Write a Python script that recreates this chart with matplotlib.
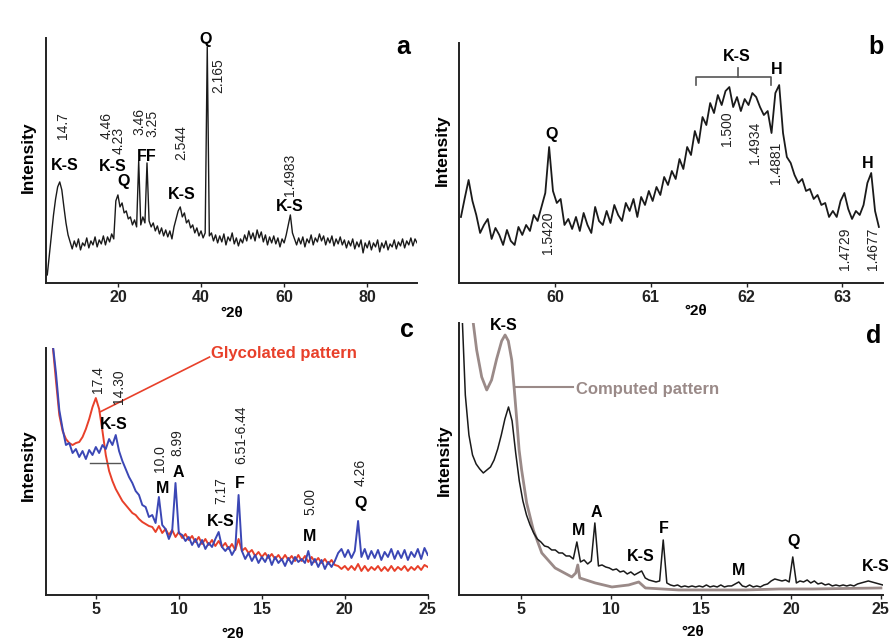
# XRD patterns of the K-S clay sample: bulk (a), zoom on 060 region (b),
# oriented air dried / glycolated (c) and oriented vs computed (d).
import numpy as np
import matplotlib
matplotlib.use("Agg")
import matplotlib.pyplot as plt

plt.rcParams['font.family'] = ['Liberation Sans', 'DejaVu Sans']

# ---- panel a : bulk pattern, 2theta from 3.0 in steps of 0.5
a_start, a_step = 3.0, 0.5
a_int = [8, 28, 48, 68, 84, 96, 101, 93, 76, 60,
         48, 41, 34, 42, 36, 44, 33, 40, 37, 45,
         35, 42, 38, 46, 36, 43, 39, 47, 38, 46,
         41, 49, 44, 82, 88, 76, 80, 70, 72, 64,
         66, 58, 63, 56, 122, 58, 66, 60, 120, 62,
         56, 60, 52, 57, 49, 55, 47, 53, 46, 52,
         44, 56, 64, 72, 76, 66, 70, 60, 63, 55,
         58, 50, 55, 47, 52, 45, 50, 236, 47, 50,
         42, 48, 40, 47, 41, 49, 38, 46, 42, 50,
         39, 45, 37, 44, 40, 48, 42, 52, 44, 50,
         42, 53, 45, 51, 41, 48, 38, 46, 40, 47,
         39, 45, 36, 44, 40, 48, 58, 68, 50, 44,
         38, 45, 39, 46, 36, 44, 40, 48, 38, 45,
         41, 49, 42, 47, 38, 45, 40, 47, 37, 44,
         39, 46, 38, 43, 35, 42, 37, 44, 34, 41,
         36, 43, 30, 40, 35, 42, 33, 40, 36, 43,
         31, 40, 35, 42, 33, 39, 36, 43, 34, 41,
         37, 44, 35, 42, 38, 45, 37, 44, 40]

# ---- panel b : 59-63.4 deg, steps of 0.04
b_start, b_step = 59.02, 0.04
b_int = [66, 85, 103, 82, 68, 50, 58, 64, 44, 55,
         48, 38, 53, 42, 38, 56, 48, 58, 52, 68,
         62, 76, 90, 136, 92, 80, 84, 58, 64, 54,
         66, 52, 70, 58, 50, 76, 62, 58, 72, 60,
         78, 68, 62, 80, 72, 84, 66, 86, 78, 92,
         82, 96, 88, 106, 98, 112, 104, 124, 114, 136,
         128, 152, 140, 166, 158, 180, 170, 188, 178, 192,
         196, 176, 186, 172, 184, 178, 190, 186, 176, 168,
         172, 150, 190, 198, 150, 126, 120, 108, 100, 104,
         92, 94, 84, 88, 78, 80, 66, 72, 66, 82,
         90, 74, 64, 72, 68, 78, 100, 110, 72, 56]

# ---- panel c : oriented (blue) and glycolated (red), steps of 0.2
c_start, c_step = 2.4, 0.2
c_glyco = [250, 214, 180, 164, 156, 152, 150, 152, 153, 158,
           166, 176, 188, 197, 186, 164, 140, 124, 114, 106,
           100, 94, 90, 86, 82, 80, 76, 73, 71, 69,
           68, 63, 69, 62, 66, 60, 65, 58, 63, 57,
           61, 55, 59, 53, 58, 51, 56, 50, 55, 49,
           54, 48, 52, 46, 51, 45, 56, 44, 47, 42,
           45, 39, 43, 38, 42, 37, 41, 36, 40, 35,
           40, 35, 39, 34, 40, 34, 39, 33, 38, 33,
           37, 32, 36, 31, 35, 30, 29, 26, 29, 25,
           29, 25, 31, 24, 29, 24, 28, 25, 29, 24,
           28, 24, 29, 24, 28, 25, 29, 24, 28, 25,
           29, 25, 30, 28]
c_air = [252, 222, 185, 166, 150, 152, 142, 146, 138, 144,
         136, 145, 140, 148, 142, 150, 146, 156, 150, 160,
         144, 134, 126, 118, 112, 104, 100, 90, 88, 78,
         80, 72, 98, 70, 66, 56, 64, 112, 62, 60,
         54, 58, 50, 56, 48, 55, 46, 52, 48, 56,
         63, 48, 44, 48, 40, 46, 100, 44, 36, 42,
         34, 40, 32, 38, 33, 40, 30, 38, 32, 36,
         29, 37, 31, 38, 33, 36, 32, 44, 30, 36,
         28, 35, 26, 33, 28, 34, 42, 46, 38, 45,
         37, 44, 74, 38, 46, 36, 44, 37, 45, 35,
         43, 38, 46, 36, 44, 37, 45, 35, 43, 38,
         46, 36, 47, 40]

# ---- panel d : measured (black, steps of 0.2) and computed (grey)
d_start, d_step = 1.7, 0.2
d_meas = [290, 200, 160, 140, 131, 126, 122, 125, 128, 135,
          146, 160, 176, 188, 174, 142, 114, 94, 80, 70,
          62, 56, 53, 49, 48, 45, 45, 42, 42, 39,
          39, 36, 53, 33, 35, 31, 34, 72, 29, 30,
          28, 27, 25, 26, 23, 24, 21, 23, 20, 22,
          24, 17, 15, 14, 13, 14, 55, 12, 10, 9,
          10, 8, 9, 8, 9, 8, 9, 8, 10, 8,
          9, 8, 10, 8, 9, 9, 11, 13, 9, 8,
          10, 8, 9, 8, 10, 11, 14, 16, 15, 14,
          15, 13, 38, 12, 14, 13, 15, 12, 14, 11,
          12, 10, 11, 9, 10, 9, 10, 9, 10, 9,
          11, 12, 13, 14, 13, 12, 11, 10]
d_calc_x = [2.25, 2.53, 2.81, 3.09, 3.36, 3.64, 3.92, 4.11, 4.29, 4.48,
            4.61, 4.76, 4.89, 5.03, 5.31, 5.68, 6.15, 6.89, 7.82, 8.04,
            8.15, 8.26, 9.12, 10.05, 10.98, 11.54, 11.91, 13.76, 17.48,
            19.34, 21.2, 25.0]
d_calc = [285, 245, 218, 205, 215, 236, 254, 260, 254, 235,
          208, 175, 145, 125, 92, 65, 42, 27, 18, 22,
          30, 17, 12, 8, 10, 13, 7, 5, 5, 6, 6, 7]

RED = '#e8402a'
BLUE = '#3b47b5'
GREY = '#9a8a88'
INK = '#1a1a1a'


def xs(start, step, vals):
    return start + step * np.arange(len(vals))


def style_axes(ax, xlim, ylim, xticks):
    ax.set_xlim(*xlim)
    ax.set_ylim(*ylim)
    for s in ('top', 'right'):
        ax.spines[s].set_visible(False)
    for s in ('left', 'bottom'):
        ax.spines[s].set_linewidth(1.4)
        ax.spines[s].set_color('#222222')
    ax.set_yticks([])
    ax.set_xticks(xticks)
    ax.tick_params(axis='x', direction='out', length=3, width=1, pad=2,
                   labelsize=11.5, colors='#222222')
    for lab in ax.get_xticklabels():
        lab.set_fontweight('bold')


def lab(ax, x, y, s, **kw):
    opts = dict(ha='center', va='center', fontsize=11.5, fontweight='bold', clip_on=False)
    opts.update(kw)
    ax.text(x, y, s, **opts)


def num(ax, x, y, s):
    ax.text(x, y, s, rotation=90, ha='center', va='center', fontsize=10,
            color='#222222', clip_on=False)


def axis_labels(ax, ypos, xpos):
    ax.text(ypos[0], ypos[1], 'Intensity', rotation=90, transform=ax.transAxes,
            ha='center', va='center', fontsize=12.5, fontweight='bold')
    ax.text(xpos[0], xpos[1], '°2θ', transform=ax.transAxes,
            ha='center', va='center', fontsize=11, fontweight='bold')


fig = plt.figure(figsize=(8.92, 6.43), dpi=100)
ax_a = fig.add_axes([0.0516, 0.560, 0.416, 0.381])
ax_b = fig.add_axes([0.5146, 0.560, 0.475, 0.373])
ax_c = fig.add_axes([0.0516, 0.0747, 0.428, 0.384])
ax_d = fig.add_axes([0.5146, 0.0747, 0.475, 0.423])

# ---------- a
ax_a.plot(xs(a_start, a_step, a_int), a_int, color=INK, lw=1.0)
style_axes(ax_a, (2.7, 92), (0, 245), [20, 40, 60, 80])
lab(ax_a, 7.2, 117, 'K-S')
num(ax_a, 6.7, 157, '14.7')
lab(ax_a, 18.8, 116, 'K-S')
num(ax_a, 17.3, 157, '4.46')
num(ax_a, 20.1, 142, '4.23')
lab(ax_a, 21.3, 101, 'Q')
num(ax_a, 25.2, 161, '3.46')
num(ax_a, 28.2, 159, '3.25')
lab(ax_a, 26.9, 126, 'FF')
num(ax_a, 35.3, 140, '2.544')
lab(ax_a, 35.4, 88, 'K-S')
lab(ax_a, 41.1, 243, 'Q')
num(ax_a, 44.2, 207, '2.165')
num(ax_a, 61.4, 108, '1.4983')
lab(ax_a, 61.4, 76, 'K-S')
lab(ax_a, 88.7, 236, 'a', fontsize=18)
axis_labels(ax_a, (-0.0485, 0.514), (0.499, -0.122))

# ---------- b
ax_b.plot(xs(b_start, b_step, b_int), b_int, color=INK, lw=1.3)
style_axes(ax_b, (59.0, 63.42), (0, 240), [60, 61, 62, 63])
lab(ax_b, 59.97, 149, 'Q')
num(ax_b, 59.93, 50, '1.5420')
lab(ax_b, 61.90, 227, 'K-S')
ax_b.plot([61.475, 61.475, 62.25, 62.25], [198, 206, 206, 198], color='#555555', lw=1.2)
ax_b.plot([61.91, 61.91], [206, 215], color='#555555', lw=1.2)
lab(ax_b, 62.31, 214, 'H')
num(ax_b, 61.80, 154, '1.500')
num(ax_b, 62.09, 140, '1.4934')
num(ax_b, 62.31, 120, '1.4881')
lab(ax_b, 63.26, 120, 'H')
num(ax_b, 63.03, 34, '1.4729')
num(ax_b, 63.32, 34, '1.4677')
lab(ax_b, 63.35, 236, 'b', fontsize=18)
axis_labels(ax_b, (-0.04, 0.554), (0.559, -0.117))

# ---------- c
ax_c.plot(xs(c_start, c_step, c_glyco), c_glyco, color=RED, lw=1.4)
ax_c.plot(xs(c_start, c_step, c_air), c_air, color=BLUE, lw=1.4)
style_axes(ax_c, (2.0, 25.0), (0, 247), [5, 10, 15, 20, 25])
ax_c.plot([4.64, 6.44], [132, 132], color='#555555', lw=1.0)
lab(ax_c, 16.36, 242, 'Glycolated pattern', color=RED, fontsize=12)
ax_c.plot([11.85, 5.24], [238, 183], color=RED, lw=1.2)
num(ax_c, 5.14, 215, '17.4')
num(ax_c, 6.38, 208, '14.30')
lab(ax_c, 6.08, 171, 'K-S')
lab(ax_c, 9.04, 107, 'M')
num(ax_c, 8.85, 136, '10.0')
lab(ax_c, 9.99, 123, 'A')
num(ax_c, 9.93, 152, '8.99')
num(ax_c, 12.55, 104, '7.17')
lab(ax_c, 12.55, 73, 'K-S')
lab(ax_c, 13.70, 112, 'F')
num(ax_c, 13.75, 160, '6.51-6.44')
num(ax_c, 17.9, 94, '5.00')
lab(ax_c, 17.86, 58, 'M')
num(ax_c, 20.98, 123, '4.26')
lab(ax_c, 20.96, 92, 'Q')
lab(ax_c, 23.75, 265, 'c', fontsize=18)
axis_labels(ax_c, (-0.047, 0.526), (0.49, -0.158))

# ---------- d
ax_d.plot(d_calc_x, d_calc, color=GREY, lw=2.0)
ax_d.plot(xs(d_start, d_step, d_meas), d_meas, color=INK, lw=1.1)
style_axes(ax_d, (1.55, 25.1), (0, 272), [5, 10, 15, 20, 25])
lab(ax_d, 4.01, 269, 'K-S')
ax_d.plot([4.66, 7.91], [208, 208], color=GREY, lw=1.5)
lab(ax_d, 12.04, 205, 'Computed pattern', color=GREY, fontsize=12)
lab(ax_d, 8.19, 64, 'M')
lab(ax_d, 9.17, 82, 'A')
lab(ax_d, 11.65, 38, 'K-S')
lab(ax_d, 12.96, 66, 'F')
lab(ax_d, 17.1, 24, 'M')
lab(ax_d, 20.17, 53, 'Q')
lab(ax_d, 24.71, 28, 'K-S')
lab(ax_d, 24.6, 259, 'd', fontsize=18)
axis_labels(ax_d, (-0.035, 0.496), (0.552, -0.136))

fig.savefig('out.png', dpi=100)
